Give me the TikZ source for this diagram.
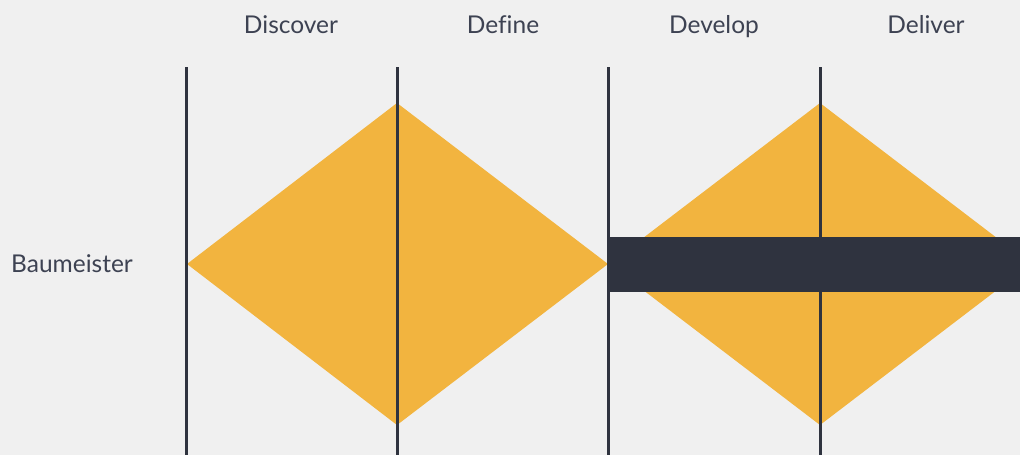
\documentclass[tikz,border=0pt]{standalone}
\usepackage{fontspec}
\setmainfont[Ligatures=NoCommon]{Lato}
\definecolor{bg}{HTML}{F0F0F0}
\definecolor{gold}{HTML}{F2B43F}
\definecolor{ink}{HTML}{2F333F}
\definecolor{txt}{HTML}{3D4252}
\begin{document}
\begin{tikzpicture}[x=1pt,y=-1pt,
  lbl/.style={font=\fontsize{24.5}{28}\selectfont, text=txt, inner sep=0pt, anchor=base},
  phase/.style={draw=ink, line width=3pt},
  diam/.style={fill=gold, draw=none}]
\useasboundingbox (0,0) rectangle (1020,455);
\fill[bg] (0,0) rectangle (1020,455);
\begin{scope}
\clip (0,0) rectangle (1020,455);
% diamonds
\fill[diam] (187,264) -- (397,103) -- (608,264) -- (397,425) -- cycle;
\fill[diam] (609,264) -- (820,103) -- (1031,264) -- (820,425) -- cycle;
% bar
\fill[ink] (609,237) rectangle (1020,292);
\end{scope}
% phase lines
\coordinate (l1t) at (186,67); \coordinate (l1b) at (186,455);
\coordinate (l2t) at (397,67); \coordinate (l2b) at (397,455);
\coordinate (l3t) at (608,67); \coordinate (l3b) at (608,455);
\coordinate (l4t) at (820,67); \coordinate (l4b) at (820,455);
\draw[phase] (l1t) -- (l1b);
\draw[phase] (l2t) -- (l2b);
\draw[phase] (l3t) -- (l3b);
\draw[phase] (l4t) -- (l4b);
% labels
\node[lbl] (discover) at (291,33.5) {Discover};
\node[lbl] (define) at (503,33.5) {Define};
\node[lbl] (develop) at (714,33.5) {Develop};
\node[lbl] (deliver) at (926,33.5) {Deliver};
\node[lbl, anchor=base west] (baumeister) at (11,272.5) {Baumeister};
\end{tikzpicture}
\end{document}
